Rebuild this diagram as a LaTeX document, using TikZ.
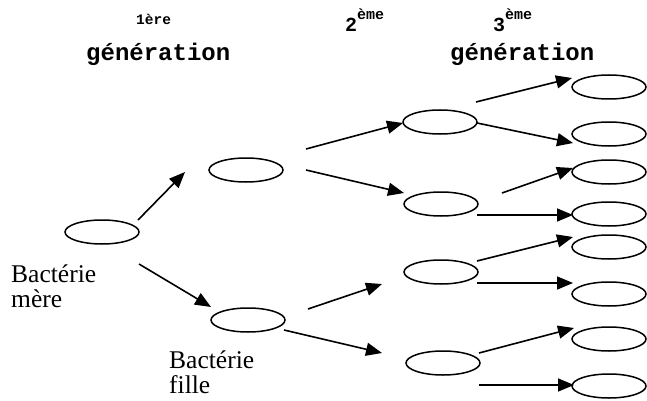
\documentclass[tikz,border=0pt]{standalone}
\usepackage{fontspec}
\setmainfont{Liberation Serif}
\newfontfamily\cour{Liberation Mono}[BoldFont={Liberation Mono Bold}]
\usetikzlibrary{shapes.geometric,arrows.meta,calc}
\begin{document}
\begin{tikzpicture}[x=1pt,y=-1pt,
  cell/.style={draw, ellipse, minimum width=74pt, minimum height=24pt, inner sep=0pt, line width=1.5pt},
  arr/.style={line width=1.6pt, -{Triangle[length=16pt,width=13pt]}},
  txt/.style={inner sep=0pt, anchor=base west},
  gen/.style={txt, font=\cour\bfseries\fontsize{24}{24}\selectfont},
  lab/.style={txt, font=\fontsize{25.5}{25}\selectfont}]
\useasboundingbox (0,0) rectangle (647,401);
% headings
\node[txt, font=\cour\bfseries\fontsize{14.5}{14.5}\selectfont] (h1) at (136,25) {1ère};
\node[gen] (g1t) at (86,61) {génération};
\node[txt, font=\cour\bfseries\fontsize{20}{20}\selectfont] (h2) at (345,32) {2\raisebox{12pt}{\fontsize{15}{15}\selectfont ème}};
\node[txt, font=\cour\bfseries\fontsize{20}{20}\selectfont] (h3) at (493,32) {3\raisebox{12pt}{\fontsize{15}{15}\selectfont ème}};
\node[gen] (g3t) at (450,61) {génération};
% labels
\node[lab] (mere) at (11,282) {\begin{tabular}[t]{@{}l@{}}Bactérie\\mère\end{tabular}};
\node[lab] (fille) at (169,368) {\begin{tabular}[t]{@{}l@{}}Bactérie\\fille\end{tabular}};
% cells
\node[cell] (m) at (102,232) {};
\node[cell] (f1) at (246,170) {};
\node[cell] (f2) at (248,320) {};
\node[cell] (A) at (440,122) {};
\node[cell] (B) at (441,204) {};
\node[cell] (C) at (441,272) {};
\node[cell] (D) at (443,363) {};
\node[cell] (c1) at (609,87) {};
\node[cell] (c2) at (609,134) {};
\node[cell] (c3) at (609,172) {};
\node[cell] (c4) at (609,214) {};
\node[cell] (c5) at (609,247) {};
\node[cell] (c6) at (609,294) {};
\node[cell] (c7) at (609,339) {};
\node[cell] (c8) at (609,386) {};
% arrows
\draw[arr] ($(m)+(36,-12)$) -- ($(f1)+(-61,2)$);
\draw[arr] ($(m)+(37,32)$) -- ($(f2)+(-37,-13)$);
\draw[arr] ($(f1)+(60,-21)$) -- ($(A)+(-37,1)$);
\draw[arr] ($(f1)+(60,0)$) -- ($(B)+(-37,-11)$);
\draw[arr] ($(f2)+(60,-11)$) -- ($(C)+(-59,12)$);
\draw[arr] ($(f2)+(36,10)$) -- ($(D)+(-61,-10)$);
\draw[arr] ($(A)+(36,-20)$) -- ($(c1)+(-37,-9)$);
\draw[arr] ($(A)+(37,1)$) -- ($(c2)+(-36,9)$);
\draw[arr] ($(B)+(61,-11)$) -- ($(c3)+(-36,-4)$);
\draw[arr] ($(B)+(36,11)$) -- ($(c4)+(-36,1)$);
\draw[arr] ($(C)+(36,-11)$) -- ($(c5)+(-36,-10)$);
\draw[arr] ($(C)+(36,11)$) -- ($(c6)+(-36,-11)$);
\draw[arr] ($(D)+(36,-10)$) -- ($(c7)+(-35,-11)$);
\draw[arr] ($(D)+(36,22)$) -- ($(c8)+(-35,-1)$);
\end{tikzpicture}
\end{document}
